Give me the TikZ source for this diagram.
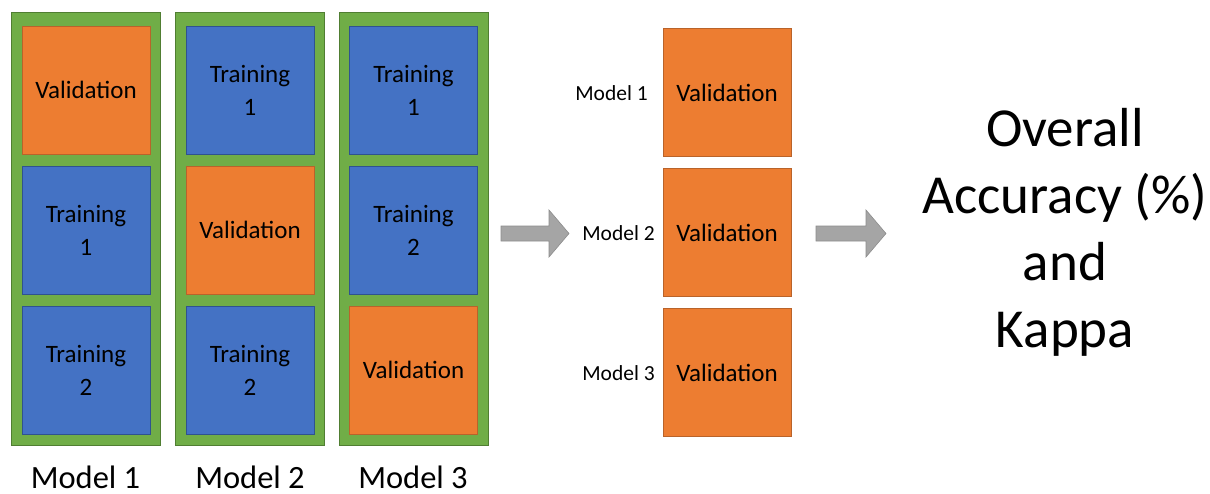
\documentclass[tikz,border=0pt]{standalone}
\usepackage{fontspec}
\setmainfont{Carlito}
\definecolor{cOrange}{HTML}{ED7D31}
\definecolor{cOrangeB}{HTML}{B9632A}
\definecolor{cBlue}{HTML}{4472C4}
\definecolor{cBlueB}{HTML}{2F528F}
\definecolor{cGreen}{HTML}{70AD47}
\definecolor{cGreenB}{HTML}{507E32}
\definecolor{cGray}{HTML}{A5A5A5}
\definecolor{cGrayB}{HTML}{8C8C8C}
\begin{document}
\begin{tikzpicture}[x=1pt,y=-1pt,
  colbox/.style={draw=cGreenB,fill=cGreen,line width=0.8pt,minimum width=149pt,minimum height=433pt,inner sep=0pt},
  valbox/.style={draw=cOrangeB,fill=cOrange,line width=0.8pt,minimum width=128pt,minimum height=128pt,inner sep=0pt,align=center,font=\fontsize{25}{33}\selectfont},
  trbox/.style={draw=cBlueB,fill=cBlue,line width=0.8pt,minimum width=128pt,minimum height=128pt,inner sep=0pt,align=center,font=\fontsize{25}{33}\selectfont},
  midlab/.style={font=\fontsize{21.5}{26}\selectfont,inner sep=0pt},
  botlab/.style={font=\fontsize{32.5}{38}\selectfont,inner sep=0pt},
  blockarrow/.style={fill=cGray,draw=cGrayB,line width=0.6pt}
]
\useasboundingbox (0,0) rectangle (1210,493);
% columns
\node[colbox] (c1) at (85.5,228.5) {};
\node[colbox] (c2) at (250,228.5) {};
\node[colbox] (c3) at (413.5,228.5) {};
% column 1
\node[valbox] (c1a) at (86,90) {Validation};
\node[trbox] (c1b) at (86,230) {Training\\1};
\node[trbox] (c1c) at (86,370) {Training\\2};
% column 2
\node[trbox] (c2a) at (250,90) {Training\\1};
\node[valbox] (c2b) at (250,230) {Validation};
\node[trbox] (c2c) at (250,370) {Training\\2};
% column 3
\node[trbox] (c3a) at (413.5,90) {Training\\1};
\node[trbox] (c3b) at (413.5,230) {Training\\2};
\node[valbox] (c3c) at (413.5,370) {Validation};
% bottom labels
\node[botlab] (l1) at (85.5,477) {Model 1};
\node[botlab] (l2) at (250,477) {Model 2};
\node[botlab] (l3) at (413,477) {Model 3};
% arrow 1
\fill[blockarrow] (501,226) -- (549,226) -- (549,210) -- (569,233.5) -- (549,257) -- (549,241) -- (501,241) -- cycle;
% middle
\node[valbox] (m1) at (727,92.5) {Validation};
\node[valbox] (m2) at (727,232.5) {Validation};
\node[valbox] (m3) at (727,372.5) {Validation};
\node[midlab] (ml1) at (611.5,93) {Model 1};
\node[midlab] (ml2) at (618.5,233) {Model 2};
\node[midlab] (ml3) at (618.5,373) {Model 3};
% arrow 2
\fill[blockarrow] (816,226) -- (866,226) -- (866,210) -- (886,233.5) -- (866,257) -- (866,241) -- (816,241) -- cycle;
% result
\node[font=\fontsize{55}{67}\selectfont,align=center,inner sep=0pt] (res) at (1065,232) {Overall\\Accuracy (\%)\\and\\Kappa};
\end{tikzpicture}
\end{document}
